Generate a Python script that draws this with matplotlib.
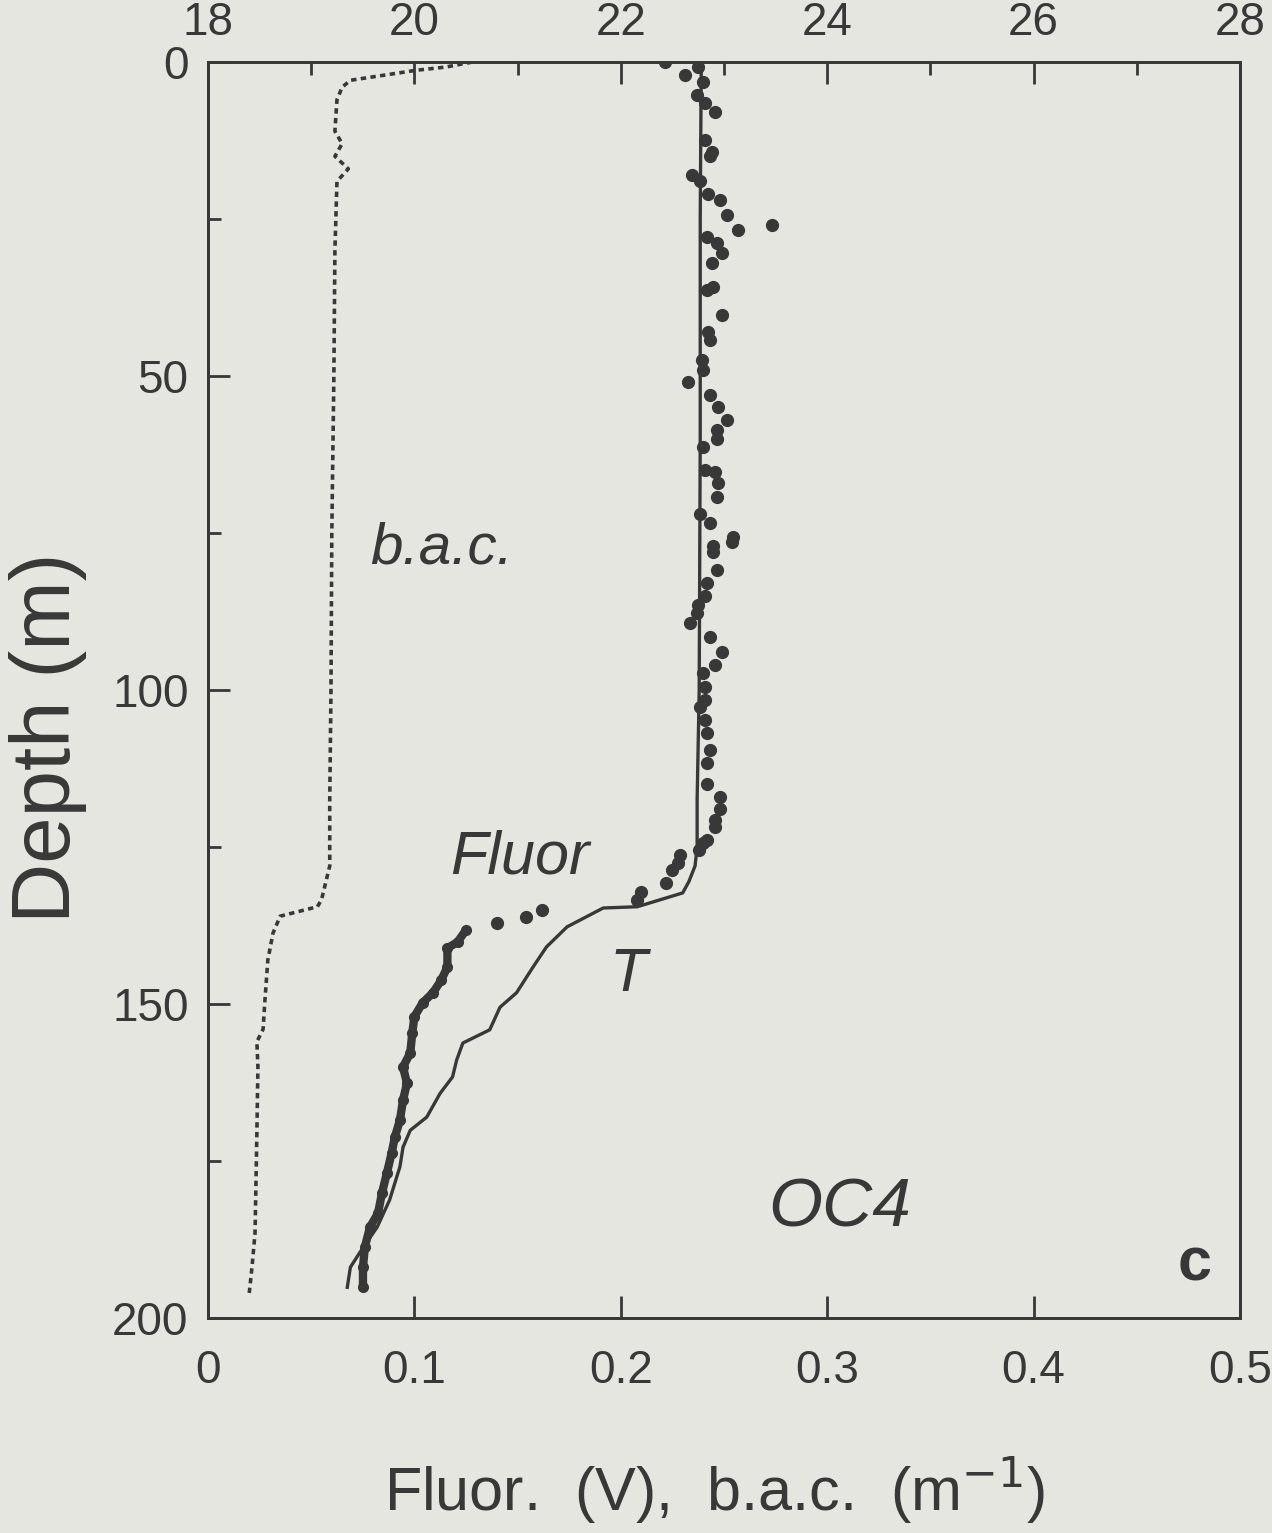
import matplotlib.pyplot as plt
from matplotlib.ticker import MultipleLocator

# temperature profile (top axis, deg C)
t_depth = [0, 25, 60, 100, 117.5, 125, 128, 130.5, 132.3, 134.5, 134.7, 137.7, 140.9,
           144.1, 148.2, 150.5, 154.1, 156.2, 158.9, 161.6, 164.2, 168.0, 170.1, 172.8,
           175.9, 181.2, 185.5, 189.6, 191.9, 195.1]
t_val = [22.78, 22.77, 22.77, 22.76, 22.74, 22.74, 22.72, 22.66, 22.60, 22.16, 21.83,
         21.48, 21.28, 21.15, 20.99, 20.83, 20.73, 20.47, 20.41, 20.37, 20.25, 20.12,
         19.96, 19.89, 19.86, 19.76, 19.64, 19.47, 19.38, 19.35]

# beam attenuation coefficient (m-1)
bac_depth = [0, 0.8, 1.3, 2.9, 4, 6, 11, 13, 15, 17, 19, 30, 50, 75, 100, 117.5, 128,
             133.4, 134.5, 136, 138.7, 143, 149.4, 154, 156, 160, 170.5, 186.5, 192, 196]
bac_val = [0.128, 0.115, 0.101, 0.069, 0.065, 0.0625, 0.0615, 0.065, 0.0615, 0.068,
           0.0625, 0.0615, 0.061, 0.060, 0.0596, 0.059, 0.059, 0.055, 0.053, 0.035,
           0.0315, 0.029, 0.0276, 0.0267, 0.0237, 0.0242, 0.0237, 0.0228, 0.0213, 0.020]

# fluorescence (V), mixed layer samples
fl_depth = [0, 0.8, 2, 3.2, 5.2, 6.5, 8, 12.4, 14.3, 15, 18, 19, 21, 22, 24.4, 26, 26.8,
            27.8, 28.8, 30.4, 32, 35.8, 36.3, 40.3, 43, 44.3, 47.5, 49, 51, 53, 55, 57,
            58.6, 60, 61.3, 65, 65.3, 67, 69.3, 72, 73.4, 75.6, 76.4, 77, 78, 80.9, 83,
            85, 86.5, 87.7, 89.3, 91.5, 94, 96, 97.3, 99.5, 101.6, 102.7, 104.8, 106.8,
            109.6, 111.6, 115, 117, 119, 120.7, 121.8, 123.9, 124.4, 125.5, 126.3, 127.5,
            128.7, 130.7, 132.2, 133.4, 135, 136.1, 137.1]
fl_val = [0.2214, 0.2374, 0.2311, 0.2398, 0.2369, 0.2408, 0.2456, 0.2408, 0.2442, 0.2432,
          0.2345, 0.2384, 0.2422, 0.2481, 0.2515, 0.2733, 0.2568, 0.2418, 0.2466, 0.2490,
          0.2442, 0.2447, 0.2418, 0.2490, 0.2422, 0.2432, 0.2393, 0.2398, 0.2326, 0.2432,
          0.2471, 0.2515, 0.2466, 0.2466, 0.2398, 0.2408, 0.2456, 0.2471, 0.2466, 0.2384,
          0.2432, 0.2544, 0.2539, 0.2447, 0.2447, 0.2466, 0.2418, 0.2408, 0.2374, 0.2369,
          0.2335, 0.2432, 0.2490, 0.2456, 0.2398, 0.2408, 0.2408, 0.2384, 0.2408, 0.2418,
          0.2432, 0.2418, 0.2418, 0.2481, 0.2481, 0.2456, 0.2456, 0.2418, 0.2400, 0.2380,
          0.2287, 0.2277, 0.225, 0.222, 0.210, 0.208, 0.162, 0.154, 0.140]

# fluorescence below the thermocline (dense chain of samples)
fl_deep_depth = [138.2, 140.1, 141.1, 144.1, 146.2, 148.2, 149.8, 152, 154.6, 157.8, 160,
                 162.6, 165.3, 168.5, 171.1, 173.7, 176.9, 180.1, 183.3, 185.5, 188.7,
                 191.9, 195.1]
fl_deep_val = [0.125, 0.121, 0.116, 0.116, 0.113, 0.109, 0.104, 0.100, 0.099, 0.098,
               0.0945, 0.0964, 0.0945, 0.093, 0.0906, 0.089, 0.0867, 0.0843, 0.0824,
               0.0785, 0.076, 0.0751, 0.0751]

ink = '#383838'
bg = '#e6e6e1'
plt.rcParams['font.family'] = 'Liberation Sans'

fig = plt.figure(figsize=(12.72, 15.33), dpi=100, facecolor=bg)
ax = fig.add_axes([0.1635, 0.1402, 0.8113, 0.8193], facecolor=bg)

# b.a.c. is the short-dashed trace
ax.plot(bac_val, bac_depth, color=ink, lw=2.6, ls=(0, (1.5, 1.2)))
ax.plot(fl_val, fl_depth, ls='none', marker='o', ms=8.5, color=ink)
ax.plot(fl_deep_val, fl_deep_depth, color=ink, lw=6, marker='o', ms=7,
        solid_capstyle='round')

ax.set_xlim(0, 0.5)
ax.set_ylim(200, 0)
ax.xaxis.set_major_locator(MultipleLocator(0.1))
ax.yaxis.set_major_locator(MultipleLocator(50))
ax.yaxis.set_minor_locator(MultipleLocator(25))
ax.set_xticks([0, 0.1, 0.2, 0.3, 0.4, 0.5], ['0', '0.1', '0.2', '0.3', '0.4', '0.5'])

# temperature on the top axis
ax2 = ax.twiny()
ax2.plot(t_val, t_depth, color=ink, lw=2.4)
ax2.set_xlim(18, 28)
ax2.xaxis.set_major_locator(MultipleLocator(2))
ax2.xaxis.set_minor_locator(MultipleLocator(1))

for a in (ax, ax2):
    for s in a.spines.values():
        s.set_color(ink)
        s.set_linewidth(2)
    a.tick_params(which='both', direction='in', colors=ink, labelsize=33, width=2)
    a.tick_params(which='major', length=16)
    a.tick_params(which='minor', length=9)
ax.tick_params(axis='x', pad=22, top=False)
ax.tick_params(axis='y', pad=14, right=False)
ax2.tick_params(axis='x', pad=12)

fig.text(0.038, 0.519, 'Depth (m)', rotation=90, ha='center', va='center',
         fontsize=60, color=ink)
fig.text(0.562, 0.028, 'Fluor.  (V),  b.a.c.  (m$^{-1}$)', ha='center', va='center',
         fontsize=44, color=ink)

ax.text(0.1134, 77.4, 'b.a.c.', style='italic', fontsize=42, color=ink,
        ha='center', va='center')
ax.text(0.151, 126.8, 'Fluor', style='italic', fontsize=44, color=ink,
        ha='center', va='center')
ax.text(0.2035, 145.4, 'T', style='italic', fontsize=44, color=ink,
        ha='center', va='center')
ax.text(0.306, 182.5, 'OC4', style='italic', fontsize=50, color=ink,
        ha='center', va='center')
ax.text(0.478, 191.6, 'c', fontsize=44, color=ink, fontweight='bold',
        ha='center', va='center')

fig.savefig('out.png', dpi=100, facecolor=bg)
